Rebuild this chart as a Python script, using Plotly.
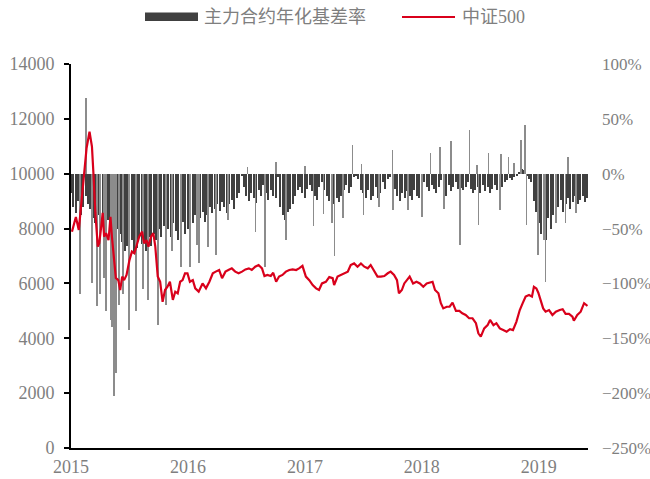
import plotly.graph_objects as go

# ---------------- data ----------------
# x = trading-day number since the first IC contract day
tick_days = [0, 240, 480, 720, 960]
tick_text = ["2015", "2016", "2017", "2018", "2019"]

# weekly basis (annualised basis rate, %), every 5 trading days
basis_day = list(range(0, 1061, 5))
basis_pct = [
    -18, -30, -36, -25, -38, -30, -20, -28, -32, -40,
    -45, -38, -55, -48, -60, -42, -52, -65, -58, -50,
    -55, -62, -70, -66, -75, -60, -72, -68, -58, -64,
    -62, -70, -58, -66, -55, -60, -50, -58, -48, -54,
    -50, -58, -45, -52, -60, -48, -44, -55, -50, -40,
    -45, -38, -48, -40, -35, -44, -38, -30, -36, -32,
    -28, -34, -26, -30, -36, -28, -24, -32, -22, -18,
    -2, -12, -20, -25, -18, -22, -27, -15, -20, -10,
    -18, -24, -15, -20, -22, -3, -30, -38, -42, -35,
    -32, -28, -20, -15, -12, -18, -22, -14, -10, -16,
    -20, -24, -12, -8, -15, -20, -25, -30, -28, -22,
    -26, -20, -15, -10, -18, -12, -3, -2, -5, -15,
    -18, -22, -15, -24, -20, -12, -22, -18, -8, -14,
    -5, -3, -8, -14, -20, -25, -18, -22, -16, -20,
    -24, -15, -20, -22, -18, -8, -12, -16, -10, -14,
    -18, -12, -6, -15, -20, -10, -16, -12, -8, -14,
    -13, -15, -12, -8, -14, -18, -15, -12, -18, -10,
    -16, -12, -18, -14, -10, -15, -18, -12, -8, -6,
    -4, -6, -3, -2, 2, 4, 3, -2, -5, -8,
    -25, -35, -45, -55, -48, -60, -40, -50, -38, -32,
    -30, -24, -35, -28, -22, -32, -26, -20, -28, -24,
    -20, -26, -22,
]

# isolated single-day basis spikes
spike_day = [18, 31, 43, 53, 60, 68, 72, 82, 84, 88, 92, 98, 107, 119, 133, 148, 158,
             178, 195, 207, 226, 244, 258, 263, 281, 297, 322, 362, 379, 398, 421, 441,
             480, 498, 518, 535, 541, 558, 578, 596, 600, 632, 660, 661, 691, 720, 738,
             757, 766, 780, 798, 818, 833, 836, 857, 881, 883, 898, 909, 923, 932, 935,
             959, 971, 974, 995, 1015, 1020, 1036]
spike_pct = [-110, 69, -100, -121, -110, -95, -125, -133, -140, -203, -182, -120, -110,
             -142, -125, -105, -115, -138, -120, -70, -85, -85, -65, -81, -67, -74, -42,
             6, -53, -85, 11, -60, 7, -48, -37, -45, -75, -40, 26, 9, -38, -30, 22, -33,
             -33, -39, 19, 24, -32, 30, -65, 40, 8, -47, 19, -33, 18, 15, 10, 31, 44,
             -47, -74, -60, -99, -45, -45, 15, -36]

# CSI 500 index level
csi_day = [2, 10, 16, 21, 27, 32, 38, 43, 46, 50, 55, 58, 62, 65, 68, 72, 77, 81, 84, 89,
           92, 97, 101, 105, 109, 114, 120, 125, 130, 135, 140, 146, 150, 155, 159, 164,
           169, 173, 178, 183, 188, 193, 198, 203, 209, 214, 219, 224, 229, 234, 239, 244,
           250, 255, 262, 270, 277, 284, 291, 297, 304, 310, 317, 323, 330, 337, 344, 351,
           358, 365, 371, 378, 385, 392, 397, 403, 410, 415, 421, 427, 434, 441, 448, 455,
           462, 468, 475, 482, 489, 496, 503, 509, 515, 523, 530, 537, 540, 547, 554, 561,
           568, 574, 581, 588, 595, 602, 609, 615, 622, 629, 636, 643, 650, 656, 663, 669,
           673, 679, 684, 691, 695, 702, 709, 716, 723, 730, 736, 742, 747, 754, 759, 764,
           771, 777, 783, 790, 797, 803, 810, 817, 824, 831, 836, 841, 848, 855, 860, 867,
           873, 880, 887, 894, 901, 907, 914, 921, 927, 933, 940, 946, 950, 955, 959, 964,
           969, 974, 981, 988, 995, 1003, 1009, 1015, 1022, 1029, 1032, 1039, 1046, 1053, 1060]
csi500 = [7886, 8420, 7950, 8860, 9890, 10940, 11530, 10990, 10020, 8570, 7340, 7470, 8070,
          8570, 7700, 7830, 7580, 8430, 7700, 6740, 6200, 6120, 5760, 6250, 6120, 6310, 6850,
          7160, 7100, 7400, 7700, 7890, 7460, 7580, 7340, 7700, 7830, 7340, 6250, 6060, 5330,
          5760, 5880, 6060, 5400, 5700, 5640, 6060, 6120, 6370, 6370, 6060, 6120, 5820, 5700,
          6000, 5820, 6060, 6370, 6430, 6490, 6190, 6430, 6490, 6550, 6430, 6370, 6430, 6510,
          6550, 6490, 6610, 6670, 6550, 6270, 6310, 6270, 6390, 6060, 6250, 6310, 6430, 6490,
          6510, 6490, 6550, 6640, 6250, 6120, 5940, 5820, 5760, 6000, 6060, 6230, 6190, 5940,
          6250, 6310, 6370, 6430, 6670, 6730, 6610, 6730, 6610, 6550, 6670, 6430, 6250, 6250,
          6270, 6370, 6430, 6310, 6120, 5640, 5760, 6000, 6190, 6250, 6000, 6060, 6000, 5880,
          6000, 6030, 6060, 5760, 5640, 5280, 5090, 5150, 5150, 5300, 5000, 5000, 4910, 4850,
          4730, 4730, 4550, 4180, 4060, 4360, 4480, 4670, 4480, 4550, 4360, 4300, 4240, 4330,
          4300, 4600, 5030, 5280, 5520, 5580, 5520, 5880, 5820, 5660, 5330, 5090, 4970, 5030,
          4850, 4970, 5030, 5060, 4890, 4890, 4790, 4640, 4850, 4970, 5280, 5180]

# ---------------- styles ----------------
GREY_TXT = "#7f7f7f"
BAR_DARK = "#404040"
RED = "#d9001b"
FONT = "Liberation Serif, Noto Sans CJK SC, serif"

fig = go.Figure()
fig.add_trace(go.Bar(x=basis_day, y=basis_pct, width=2.2, marker_color=BAR_DARK,
                     marker_line_width=0, name="主力合约年化基差率", showlegend=False,
                     yaxis="y"))
fig.add_trace(go.Bar(x=spike_day, y=spike_pct, width=1.3, marker_color="#8c8c8c",
                     marker_line_width=0, showlegend=False, yaxis="y"))
fig.add_trace(go.Scatter(x=csi_day, y=csi500, mode="lines", name="中证500",
                         line=dict(color=RED, width=2.2), showlegend=False, yaxis="y2"))

# manual legend (long swatches, as in the reference)
W, H = 517, 384
def px(x):
    return (x - 71) / W
def py(y):
    return (448 - y) / H

shapes = [
    dict(type="rect", xref="paper", yref="paper", x0=px(145), x1=px(198),
         y0=py(21), y1=py(12.5), fillcolor=BAR_DARK, line_width=0),
    dict(type="line", xref="paper", yref="paper", x0=px(402), x1=px(455),
         y0=py(17), y1=py(17), line=dict(color=RED, width=2)),
]
annotations = [
    dict(text="主力合约年化基差率", xref="paper", yref="paper", x=px(202), y=py(17),
         xanchor="left", yanchor="middle", showarrow=False,
         font=dict(family=FONT, size=18, color=GREY_TXT)),
    dict(text="中证500", xref="paper", yref="paper", x=px(460), y=py(17),
         xanchor="left", yanchor="middle", showarrow=False,
         font=dict(family=FONT, size=18, color=GREY_TXT)),
]

fig.update_layout(
    width=650, height=479,
    margin=dict(l=71, r=62, t=64, b=31),
    paper_bgcolor="white", plot_bgcolor="white",
    barmode="overlay", bargap=0,
    font=dict(family=FONT, size=18, color=GREY_TXT),
    showlegend=False,
    shapes=shapes, annotations=annotations,
    xaxis=dict(range=[0, 1061], tickmode="array", tickvals=tick_days, ticktext=tick_text,
               showgrid=False, zeroline=False, showline=True, linecolor="black",
               linewidth=2, ticks="", ticklabelstandoff=1, automargin=False,
               tickfont=dict(family=FONT, size=18, color=GREY_TXT)),
    yaxis=dict(side="right", range=[-250, 100], dtick=50, ticksuffix="%",
               showgrid=False, zeroline=False, showline=False, ticks="",
               ticklabelstandoff=13, automargin=False,
               tickfont=dict(family=FONT, size=17, color=GREY_TXT)),
    yaxis2=dict(overlaying="y", side="left", range=[0, 14000], dtick=2000,
                tickformat="d", automargin=False,
                showgrid=False, zeroline=False, showline=True, linecolor="black",
                linewidth=2, ticks="outside", ticklen=5, tickcolor="black", tickwidth=1.5,
                ticklabelstandoff=6,
                tickfont=dict(family=FONT, size=18, color=GREY_TXT)),
)

fig.write_html("out.html")
